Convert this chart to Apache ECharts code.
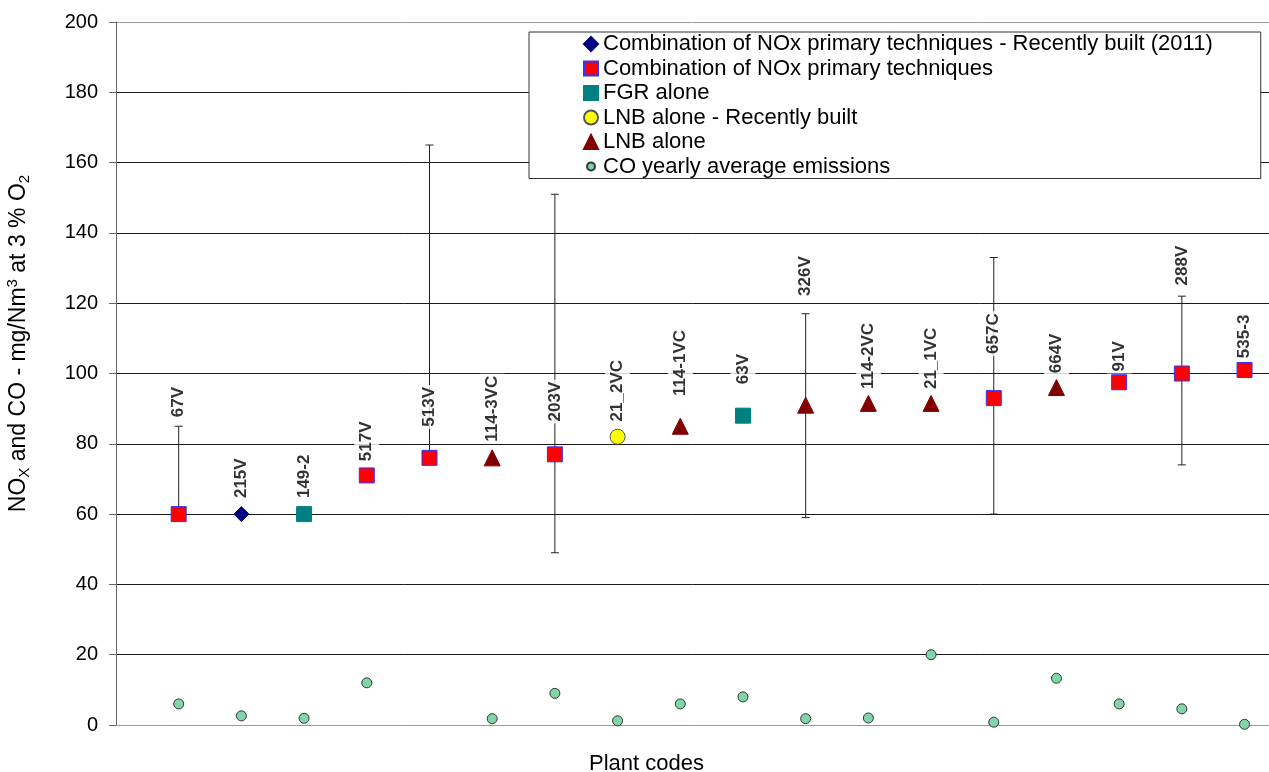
<!DOCTYPE html>
<html>
<head>
<meta charset="utf-8">
<script src="https://cdn.jsdelivr.net/npm/echarts@6/dist/echarts.min.js"></script>
<style>html,body{margin:0;padding:0;background:#fff}#c{width:1269px;height:772px}</style>
</head>
<body>
<div id="c"></div>
<script>
const codes = ['67V','215V','149-2','517V','513V','114-3VC','203V','21_2VC','114-1VC','63V','326V','114-2VC','21_1VC','657C','664V','91V','288V','535-3'];
const types = ['combo','combo2011','fgr','combo','combo','lnb','combo','lnbRecent','lnb','fgr','lnb','lnb','lnb','combo','lnb','combo','combo','combo'];
const noxValues = [60,60,60,71,76,76,77,82,85,88,91,91.5,91.5,93,96,97.5,100,101];
const errLow  = [60,null,null,null,76,null,49,null,null,null,59,null,null,60,null,null,74,null];
const errHigh = [85,null,null,null,165,null,151,null,null,null,117,null,null,133,null,null,122,null];
const coValues = [6,2.6,1.9,12,null,1.8,9,1.2,6,8,1.8,2,20,0.8,13.3,6,4.6,0.2];
const labelAt = [87,64,64,74.5,84.3,80,85.8,85.8,93,96.4,121.5,95,95,105,99.5,100,124.5,103.8];
const yTicks = [0,20,40,60,80,100,120,140,160,180,200];

const typeDefs = [
  {key:'combo2011', name:'Combination of NOx primary techniques - Recently built (2011)', symbol:'diamond', size:15, color:'#000080', border:'#000080'},
  {key:'combo', name:'Combination of NOx primary techniques', symbol:'rect', size:15, color:'#ff0000', border:'#3333ff'},
  {key:'fgr', name:'FGR alone', symbol:'rect', size:15, color:'#008080', border:'#008080'},
  {key:'lnbRecent', name:'LNB alone - Recently built', symbol:'circle', size:15, color:'#ffff00', border:'#555555'},
  {key:'lnb', name:'LNB alone', symbol:'triangle', size:16, color:'#800000', border:'#800000'}
];
const coName = 'CO yearly average emissions';

const series = [];
const errData = [];
codes.forEach((c,i)=>{ if(errLow[i]!=null) errData.push([i+1, errLow[i], errHigh[i]]); });
series.push({
  type:'custom', z:2, silent:true,
  data: errData,
  renderItem: function(params, api){
    const x = api.value(0);
    const p1 = api.coord([x, api.value(1)]);
    const p2 = api.coord([x, api.value(2)]);
    const cw = 4;
    const st = {stroke:'#222', lineWidth:1};
    return {type:'group', children:[
      {type:'line', shape:{x1:p1[0],y1:p1[1],x2:p2[0],y2:p2[1]}, style:st},
      {type:'line', shape:{x1:p2[0]-cw,y1:p2[1],x2:p2[0]+cw,y2:p2[1]}, style:st},
      {type:'line', shape:{x1:p1[0]-cw,y1:p1[1],x2:p1[0]+cw,y2:p1[1]}, style:st}
    ]};
  }
});
typeDefs.forEach(t=>{
  const data = [];
  codes.forEach((c,i)=>{ if(types[i]===t.key) data.push([i+1, noxValues[i]]); });
  series.push({
    type:'scatter', name:t.name, z:3, symbol:t.symbol, symbolSize:t.size,
    itemStyle:{color:t.color, borderColor:t.border, borderWidth:1, opacity:1},
    data:data
  });
});
const coData = [];
codes.forEach((c,i)=>{ if(coValues[i]!=null) coData.push([i+1, coValues[i]]); });
series.push({
  type:'scatter', name:coName, z:3, symbol:'circle', symbolSize:10,
  itemStyle:{color:'#80d6a6', borderColor:'#333', borderWidth:1, opacity:1},
  data:coData
});
series.push({
  type:'scatter', z:5, silent:true, symbolSize:1,
  itemStyle:{color:'rgba(0,0,0,0)'},
  data: codes.map((c,i)=>[i+1, labelAt[i]]),
  label:{
    show:true, position:'inside', rotate:90, align:'left', verticalAlign:'middle',
    formatter: p => codes[p.dataIndex],
    fontFamily:'Liberation Sans', fontSize:17, fontWeight:'bold', color:'#000',
    backgroundColor:'#fff', padding:[4,2,4,2]
  }
});

const gridColors = yTicks.map((v,i)=> (i===0||i===yTicks.length-1) ? '#999' : '#1a1a1a');

const chart = echarts.init(document.getElementById('c'), null, {renderer:'canvas'});
chart.setOption({
  animation:false,
  backgroundColor:'#fff',
  textStyle:{fontFamily:'Liberation Sans'},
  grid:{left:116, right:0, top:22, bottom:47, containLabel:false, outerBoundsMode:'none'},
  legend:{
    orient:'vertical', left:529, top:32,
    data: typeDefs.map(t=>t.name).concat([{name:coName, icon:'path://M0,0 M16,16 M8,3.5 A4.5,4.5 0 1,1 8,12.5 A4.5,4.5 0 1,1 8,3.5 Z'}]),
    backgroundColor:'#fff', borderColor:'#333', borderWidth:1, borderRadius:0,
    padding:[1,48,1,54], itemGap:2.5, itemWidth:14, itemHeight:14,
    textStyle:{fontFamily:'Liberation Sans', fontSize:22, color:'#000'},
    selectedMode:false
  },
  xAxis:{
    type:'value', min:0, max:18.39,
    axisLine:{show:true, lineStyle:{color:'#999', width:1}},
    axisTick:{show:false}, axisLabel:{show:false}, splitLine:{show:false},
    name:'Plant codes', nameLocation:'middle', nameGap:28,
    nameTextStyle:{fontFamily:'Liberation Sans', fontSize:22, color:'#000', padding:[0,92,0,0]}
  },
  yAxis:{
    type:'value', min:0, max:200, interval:20,
    axisLine:{show:true, lineStyle:{color:'#666', width:1}},
    axisTick:{show:true, length:7, lineStyle:{color:'#666'}},
    axisLabel:{fontFamily:'Liberation Sans', fontSize:20, color:'#000', margin:18},
    splitLine:{show:true, showMinLine:true, showMaxLine:true, lineStyle:{color:gridColors, width:1}},
    name:'{a|NO}{s|X}{a| and CO - mg/Nm}{p|3}{a| at 3 % O}{s|2}',
    nameLocation:'middle', nameGap:84, nameRotate:90,
    nameTextStyle:{
      padding:[0,0,0,60],
      rich:{
        a:{fontFamily:'Liberation Sans', fontSize:23, color:'#000', lineHeight:27},
        s:{fontFamily:'Liberation Sans', fontSize:15, color:'#000', lineHeight:15, verticalAlign:'bottom'},
        p:{fontFamily:'Liberation Sans', fontSize:15, color:'#000', lineHeight:15, verticalAlign:'top'}
      }
    }
  },
  series:series
});
</script>
</body>
</html>
